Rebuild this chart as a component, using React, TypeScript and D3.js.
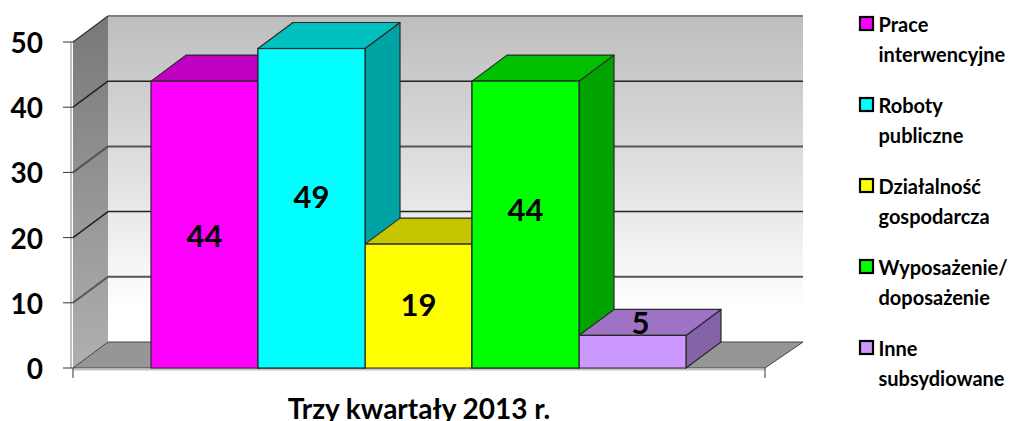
import React from "react";
import * as d3 from "d3";

const categories = ["Prace interwencyjne", "Roboty publiczne", "Działalność gospodarcza", "Wyposażenie/ doposażenie", "Inne subsydiowane"];
const values = [44, 49, 19, 44, 5];
const frontColors = ["#ff00ff", "#00ffff", "#ffff00", "#00ff00", "#cc99ff"];
const topColors = ["#c000c0", "#00c0c0", "#c6c600", "#00c000", "#9f72c6"];
const sideColors = ["#a000a0", "#00a3a3", "#a3a300", "#00a300", "#8563a8"];
const legendLines = [["Prace", "interwencyjne"], ["Roboty", "publiczne"], ["Działalność", "gospodarcza"], ["Wyposażenie/", "doposażenie"], ["Inne", "subsydiowane"]];
const yTicks = [0, 10, 20, 30, 40, 50];
const gridTicks = [10, 20, 30, 40];
const title = "Trzy kwartały 2013 r.";

const W = 1027, H = 421;
const DX = 35, DY = -26;
const y = d3.scaleLinear().domain([0, 50]).range([368, 42]);
const xLeft = 73, xRight = 765;
const x = d3.scaleBand<string>().domain(categories).range([151, 686]);
const font = "Lato, Carlito, sans-serif";
const poly = (pts: number[][]) => pts.map(p => p.join(",")).join(" ");

export default function App() {
  const bw = x.bandwidth();
  return (
    <svg width={W} height={H} style={{ position: "absolute", left: 0, top: 0, background: "#fff" }} fontFamily={font} fontWeight={700}>
      <defs>
        <linearGradient id="wall" x1="0" y1="0" x2="0" y2="1">
          <stop offset="0" stopColor="#bdbdbd" />
          <stop offset="0.9" stopColor="#ffffff" />
          <stop offset="1" stopColor="#ffffff" />
        </linearGradient>
        <linearGradient id="side" x1="0" y1="0" x2="0" y2="1">
          <stop offset="0" stopColor="#787878" />
          <stop offset="1" stopColor="#b0b0b0" />
        </linearGradient>
        <filter id="soft" x="-2%" y="-2%" width="104%" height="104%">
          <feGaussianBlur stdDeviation="0.45" />
        </filter>
      </defs>
      <g filter="url(#soft)">
        {/* back wall */}
        <rect x={xLeft + DX} y={y(50) + DY} width={xRight - xLeft + DX - DX + 3} height={y(0) - y(50)} fill="url(#wall)" />
        <line x1={xLeft + DX} x2={xRight + DX + 3} y1={y(50) + DY} y2={y(50) + DY} stroke="#808080" strokeWidth={2} />
        {/* left wall */}
        <polygon points={poly([[xLeft, y(50)], [xLeft + DX, y(50) + DY], [xLeft + DX, y(0) + DY], [xLeft, y(0)]])} fill="url(#side)" />
        <line x1={xLeft - 2} x2={xLeft - 2} y1={y(50)} y2={y(0)} stroke="#c0c0c0" strokeWidth={2} />
        <line x1={xLeft} y1={y(50)} x2={xLeft + DX} y2={y(50) + DY} stroke="#333" strokeWidth={1.2} />
        {/* floor */}
        <polygon points={poly([[xLeft, y(0)], [xLeft + DX, y(0) + DY], [xRight + DX + 3, y(0) + DY], [xRight, y(0)]])} fill="#969696" stroke="#444" strokeWidth={1} />
        <line x1={xLeft} x2={xRight} y1={y(0) + 1.5} y2={y(0) + 1.5} stroke="#c4c4c4" strokeWidth={2} />
        {/* grid */}
        {gridTicks.map((t, i) => (
          <g key={t} stroke={i % 2 === 0 ? "#555" : "#222"} strokeWidth={i % 2 === 0 ? 2 : 1.5} fill="none">
            <line x1={xLeft} y1={y(t)} x2={xLeft + DX} y2={y(t) + DY} />
            <line x1={xLeft + DX} y1={y(t) + DY} x2={xRight + DX + 3} y2={y(t) + DY} />
          </g>
        ))}
        {/* ticks */}
        {yTicks.map(t => (
          <line key={t} x1={xLeft - 10} x2={xLeft} y1={y(t)} y2={y(t)} stroke="#333" strokeWidth={1} />
        ))}
        <line x1={xLeft} x2={xLeft} y1={y(0)} y2={y(0) + 10} stroke="#333" />
        <line x1={xRight} x2={xRight} y1={y(0)} y2={y(0) + 10} stroke="#333" />
        {/* bars */}
        {categories.map((c, i) => {
          const x0 = x(c)!, x1 = x0 + bw, yt = y(values[i]), yb = y(0);
          return (
            <g key={c} stroke="#2a2a2a" strokeWidth={1.2} strokeLinejoin="round">
              <polygon points={poly([[x1, yt], [x1 + DX, yt + DY], [x1 + DX, yb + DY], [x1, yb]])} fill={sideColors[i]} />
              <polygon points={poly([[x0, yt], [x0 + DX, yt + DY], [x1 + DX, yt + DY], [x1, yt]])} fill={topColors[i]} />
              <rect x={x0} y={yt} width={bw} height={yb - yt} fill={frontColors[i]} />
            </g>
          );
        })}
        {/* redraw later fronts so overlaps stack left to right */}
        {categories.map((c, i) => {
          const x0 = x(c)!, yt = y(values[i]);
          return i < categories.length - 1 && values[i + 1] > values[i] ? (
            <g key={c} stroke="#2a2a2a" strokeWidth={1.2}>
              <rect x={x(categories[i + 1])!} y={y(values[i + 1])} width={bw} height={y(0) - y(values[i + 1])} fill={frontColors[i + 1]} />
            </g>
          ) : null;
        })}
      </g>
      {/* value labels */}
      {categories.map((c, i) => (
        <text key={c} x={x(c)! + bw / 2 + (i === 4 ? 8 : 0)} y={i === 4 ? 334 : (y(values[i]) + y(0)) / 2 + 10 + (i === 0 ? 12 : i === 1 ? -10 : i === 2 ? 0 : -14)} textAnchor="middle" fontSize={31} fill="#000">{values[i]}</text>
      ))}
      {/* y labels */}
      {yTicks.map(t => (
        <text key={t} x={43} y={y(t) + 11} textAnchor="end" fontSize={28} fill="#000">{t}</text>
      ))}
      {/* title */}
      <text x={419} y={419} textAnchor="middle" fontSize={28} fill="#000">{title}</text>
      {/* legend */}
      {legendLines.map((ls, i) => {
        const yy = 24 + i * 81;
        return (
          <g key={ls[0]}>
            <rect x={860} y={yy - 7} width={13} height={13} fill={frontColors[i]} stroke="#000" strokeWidth={2.2} />
            <text x={878.5} y={yy + 8} fontSize={20} fill="#000">{ls[0]}</text>
            <text x={878.5} y={yy + 38} fontSize={20} fill="#000">{ls[1]}</text>
          </g>
        );
      })}
    </svg>
  );
}
